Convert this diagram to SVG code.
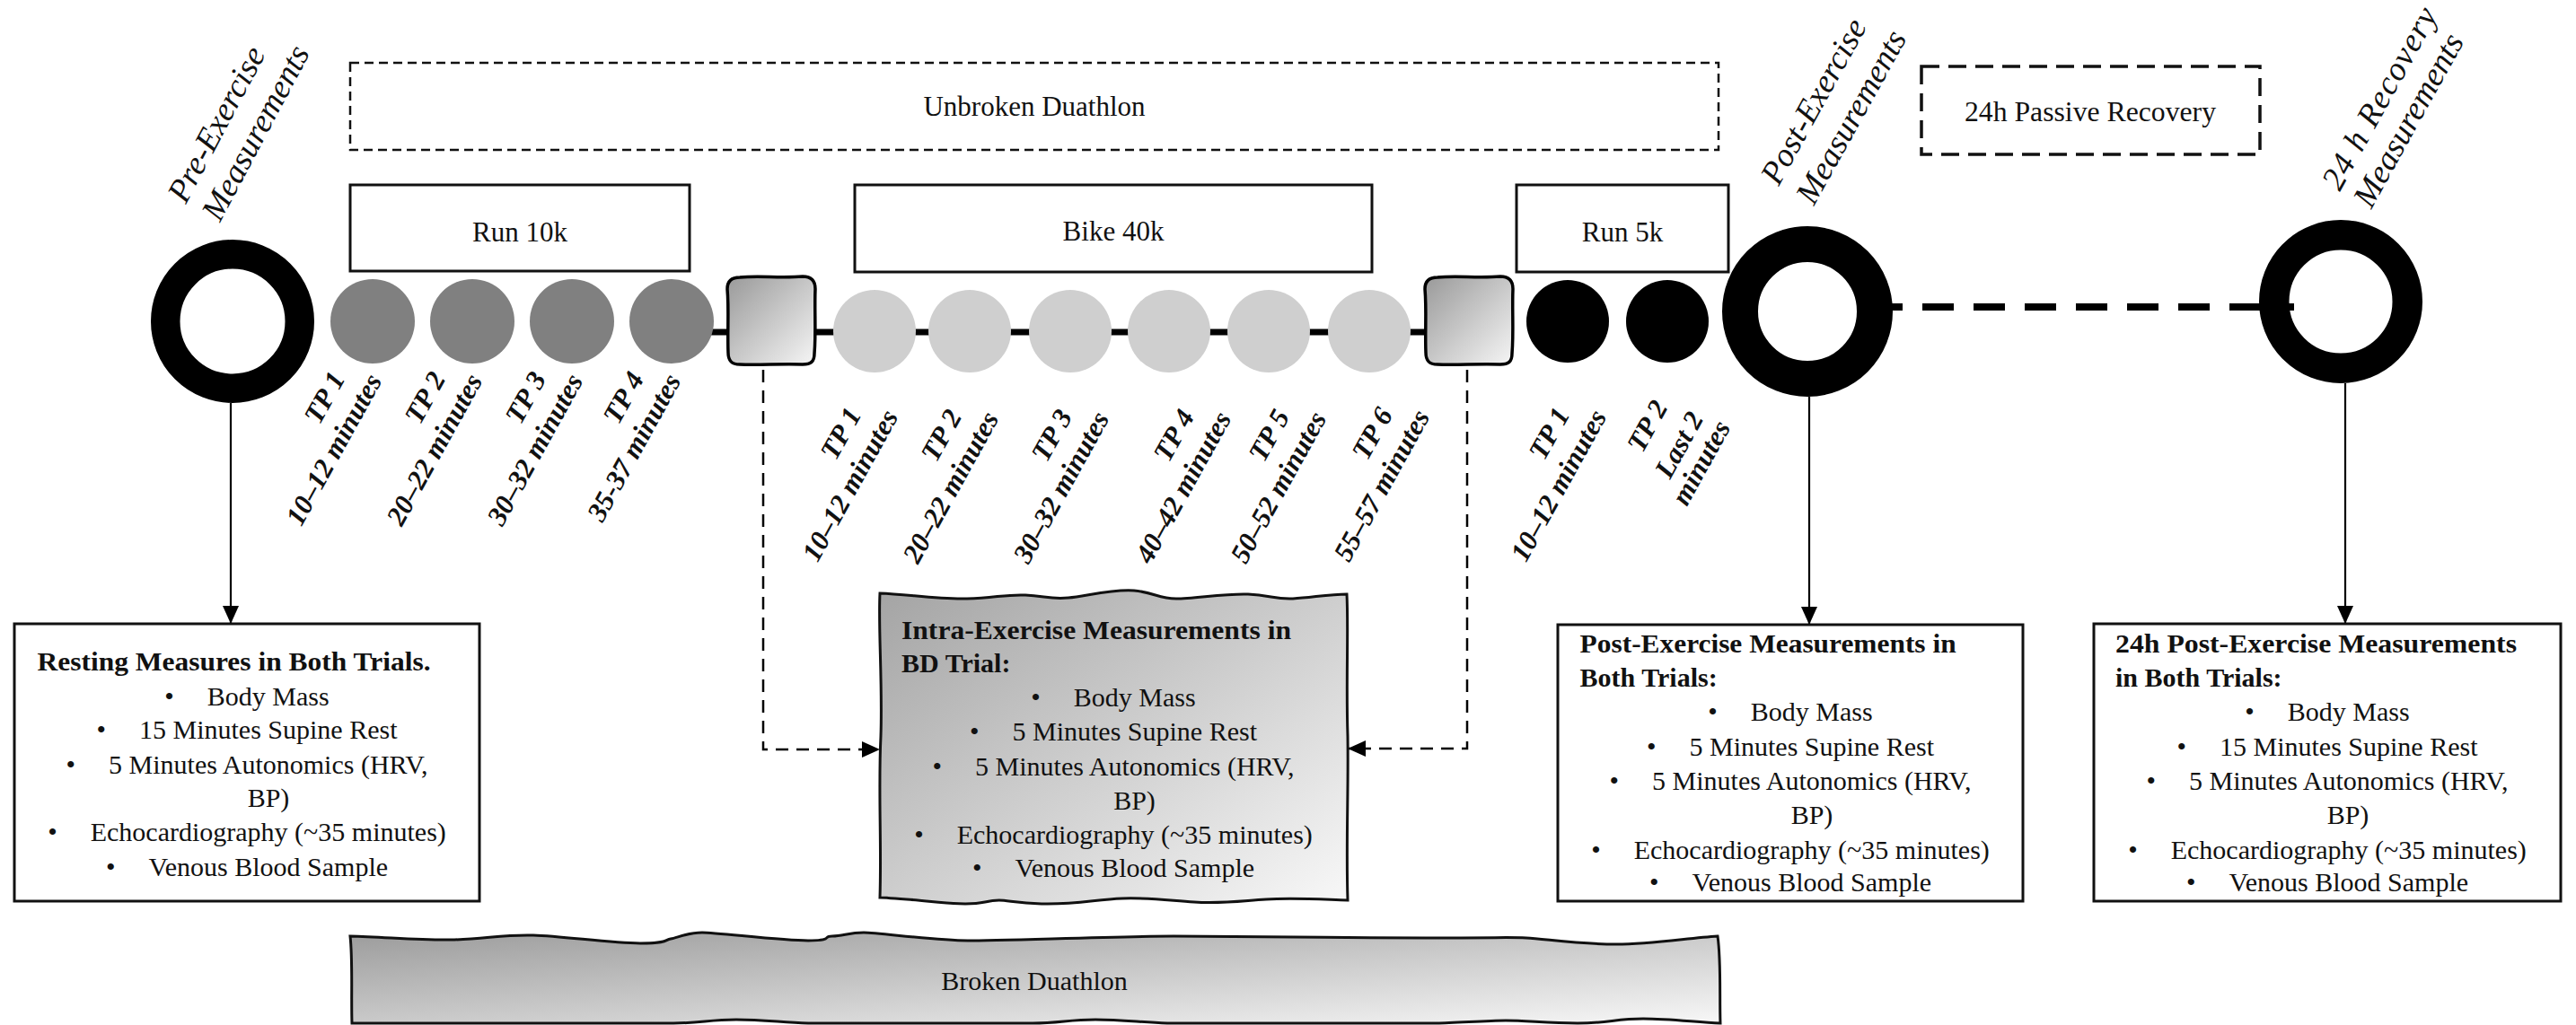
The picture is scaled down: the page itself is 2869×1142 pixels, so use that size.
<svg xmlns="http://www.w3.org/2000/svg" width="2869" height="1142" viewBox="0 0 2869 1142">
<defs>
<style>
text{font-family:"Liberation Serif","Times New Roman",serif;fill:#111;}
.lbl{font-size:31px;}
.body{font-size:30px;}
.ttl{font-size:30px;font-weight:bold;}
.ring{fill:none;stroke:#000;}
.tp{font-size:31px;font-weight:bold;font-style:italic;}
.ri{font-size:37px;font-style:italic;}
.box{fill:#fff;stroke:#111;stroke-width:3;}
.wave{stroke:#111;stroke-width:3;}
.conn{fill:none;stroke:#000;stroke-width:2.2;}
.dconn{fill:none;stroke:#000;stroke-width:2.5;stroke-dasharray:14 9;}
</style>
<marker id="arr" viewBox="0 0 20 18" refX="20" refY="9" markerWidth="20" markerHeight="18" orient="auto" markerUnits="userSpaceOnUse">
<path d="M0,0 L20,9 L0,18 Z" fill="#000" stroke="none"/>
</marker>
<linearGradient id="gT" x1="0" y1="0" x2="1" y2="1">
<stop offset="0" stop-color="#999"/><stop offset="1" stop-color="#f6f6f6"/>
</linearGradient>
<linearGradient id="gI" x1="0" y1="0" x2="1" y2="1">
<stop offset="0" stop-color="#a4a4a4"/><stop offset="1" stop-color="#f8f8f8"/>
</linearGradient>
<linearGradient id="gB" x1="0" y1="0" x2="1" y2="1">
<stop offset="0" stop-color="#9c9c9c"/><stop offset="1" stop-color="#f7f7f7"/>
</linearGradient>
</defs>
<rect width="2869" height="1142" fill="#fff"/>

<g id="connectors">
<line x1="760" y1="370" x2="1600" y2="370" stroke="#000" stroke-width="7"/>
<line x1="2084" y1="342" x2="2555" y2="342" stroke="#000" stroke-width="8" stroke-dasharray="35 22"/>
<line class="conn" x1="257" y1="449" x2="257" y2="695" marker-end="url(#arr)"/>
<line class="conn" x1="2015" y1="442" x2="2015" y2="696" marker-end="url(#arr)"/>
<line class="conn" x1="2612" y1="427" x2="2612" y2="695" marker-end="url(#arr)"/>
<path class="dconn" d="M850,412 V835 H980" marker-end="url(#arr)"/>
<path class="dconn" d="M1634,412 V834 H1501" marker-end="url(#arr)"/>
</g>

<g id="unbroken-duathlon">
<rect x="390" y="70" width="1524" height="97" fill="none" stroke="#111" stroke-width="2.5" stroke-dasharray="10 6"/>
<text class="lbl" x="1152" y="129" text-anchor="middle">Unbroken Duathlon</text>
</g>
<g id="passive-recovery">
<rect x="2140" y="74" width="377" height="98" fill="none" stroke="#111" stroke-width="3.5" stroke-dasharray="20 10"/>
<text class="lbl" x="2328" y="135" text-anchor="middle" textLength="280" lengthAdjust="spacingAndGlyphs">24h Passive Recovery</text>
</g>
<g id="run10k">
<rect class="box" x="390" y="206" width="378" height="96"/>
<text class="lbl" x="579" y="269" text-anchor="middle">Run 10k</text>
</g>
<g id="bike40k">
<rect class="box" x="952" y="206" width="576" height="97"/>
<text class="lbl" x="1240" y="268" text-anchor="middle">Bike 40k</text>
</g>
<g id="run5k">
<rect class="box" x="1689" y="206" width="236" height="97"/>
<text class="lbl" x="1807" y="269" text-anchor="middle">Run 5k</text>
</g>

<g id="pre-exercise">
<circle class="ring" cx="259" cy="358" r="74.75" stroke-width="32.5" stroke="#0d0d0d"/>
<g transform="translate(207,228) rotate(-62)">
<text class="ri" x="0" y="0">Pre-Exercise</text>
<text class="ri" x="0" y="43">Measurements</text>
</g>
</g>
<g id="post-exercise">
<circle class="ring" cx="2013" cy="347" r="75" stroke-width="40"/>
<g transform="translate(1981,208) rotate(-61)">
<text class="ri" x="0" y="0">Post-Exercise</text>
<text class="ri" x="0" y="45">Measurements</text>
</g>
</g>
<g id="recovery-24h">
<circle class="ring" cx="2607" cy="336" r="74.25" stroke-width="33.5"/>
<g transform="translate(2606,214) rotate(-61)">
<text class="ri" x="0" y="0" textLength="226" lengthAdjust="spacing">24 h Recovery</text>
<text class="ri" x="0" y="40">Measurements</text>
</g>
</g>

<g id="run-tp">
<circle cx="415" cy="358" r="47" fill="#808080"/>
<circle cx="526" cy="358" r="47" fill="#808080"/>
<circle cx="637" cy="358" r="47" fill="#808080"/>
<circle cx="748" cy="358" r="47" fill="#808080"/>
<g transform="translate(426,424) rotate(-61)"><text class="tp" x="-18" y="-37" text-anchor="end">TP 1</text><text class="tp" y="0" text-anchor="end">10–12 minutes</text></g>
<g transform="translate(538,424) rotate(-61)"><text class="tp" x="-18" y="-37" text-anchor="end">TP 2</text><text class="tp" y="0" text-anchor="end">20–22 minutes</text></g>
<g transform="translate(650,424) rotate(-61)"><text class="tp" x="-18" y="-37" text-anchor="end">TP 3</text><text class="tp" y="0" text-anchor="end">30–32 minutes</text></g>
<g transform="translate(759,424) rotate(-61)"><text class="tp" x="-18" y="-37" text-anchor="end">TP 4</text><text class="tp" y="0" text-anchor="end">35-37 minutes</text></g>
</g>

<g id="transition-1">
<path fill="url(#gT)" stroke="#000" stroke-width="3.5" d="M824,309 C845,307 870,310 894,308 C904,308 908,313 908,322 C907,345 909,370 907,394 C907,403 903,406 894,406 C870,405 845,407 824,406 C815,406 811,402 811,393 C810,370 812,345 810,322 C810,313 815,309 824,309 Z"/>
</g>

<g id="bike-tp">
<circle cx="974" cy="369" r="46" fill="#cfcfcf"/>
<circle cx="1080" cy="369" r="46" fill="#cfcfcf"/>
<circle cx="1192" cy="369" r="46" fill="#cfcfcf"/>
<circle cx="1302" cy="369" r="46" fill="#cfcfcf"/>
<circle cx="1413" cy="369" r="46" fill="#cfcfcf"/>
<circle cx="1525" cy="369" r="46" fill="#cfcfcf"/>
<g transform="translate(1001,464) rotate(-61)"><text class="tp" x="-18" y="-37" text-anchor="end">TP 1</text><text class="tp" y="0" text-anchor="end">10–12 minutes</text></g>
<g transform="translate(1113,466) rotate(-61)"><text class="tp" x="-18" y="-37" text-anchor="end">TP 2</text><text class="tp" y="0" text-anchor="end">20–22 minutes</text></g>
<g transform="translate(1236,466) rotate(-61)"><text class="tp" x="-18" y="-37" text-anchor="end">TP 3</text><text class="tp" y="0" text-anchor="end">30–32 minutes</text></g>
<g transform="translate(1372,466) rotate(-61)"><text class="tp" x="-18" y="-37" text-anchor="end">TP 4</text><text class="tp" y="0" text-anchor="end">40–42 minutes</text></g>
<g transform="translate(1478,466) rotate(-61)"><text class="tp" x="-18" y="-37" text-anchor="end">TP 5</text><text class="tp" y="0" text-anchor="end">50–52 minutes</text></g>
<g transform="translate(1593,464) rotate(-61)"><text class="tp" x="-18" y="-37" text-anchor="end">TP 6</text><text class="tp" y="0" text-anchor="end">55–57 minutes</text></g>
</g>

<g id="transition-2">
<path transform="translate(777,0)" fill="url(#gT)" stroke="#000" stroke-width="3.5" d="M824,309 C845,307 870,310 894,308 C904,308 908,313 908,322 C907,345 909,370 907,394 C907,403 903,406 894,406 C870,405 845,407 824,406 C815,406 811,402 811,393 C810,370 812,345 810,322 C810,313 815,309 824,309 Z"/>
</g>

<g id="run5k-tp">
<circle cx="1746" cy="358" r="46" fill="#000"/>
<circle cx="1857" cy="358" r="46" fill="#000"/>
<g transform="translate(1790,464) rotate(-61)"><text class="tp" x="-18" y="-37" text-anchor="end">TP 1</text><text class="tp" y="0" text-anchor="end">10–12 minutes</text></g>
<g transform="translate(1928,476) rotate(-61)"><text class="tp" x="-14" y="-72" text-anchor="end">TP 2</text><text class="tp" x="-6" y="-31" text-anchor="end">Last 2</text><text class="tp" y="0" text-anchor="end">minutes</text></g>
</g>

<g id="resting-box">
<rect class="box" x="16" y="695" width="518" height="309"/>
<text class="ttl" x="41.5" y="746.7" textLength="438" lengthAdjust="spacingAndGlyphs">Resting Measures in Both Trials.</text>
<text class="body" x="275" y="785.7" text-anchor="middle">•<tspan dx="37">Body Mass</tspan></text>
<text class="body" x="275" y="823.3" text-anchor="middle">•<tspan dx="37">15 Minutes Supine Rest</tspan></text>
<text class="body" x="275" y="861.7" text-anchor="middle">•<tspan dx="37">5 Minutes Autonomics (HRV,</tspan></text>
<text class="body" x="299" y="899.3" text-anchor="middle">BP)</text>
<text class="body" x="275" y="937.3" text-anchor="middle">•<tspan dx="37">Echocardiography (~35 minutes)</tspan></text>
<text class="body" x="275" y="976" text-anchor="middle">•<tspan dx="37">Venous Blood Sample</tspan></text>
</g>

<g id="intra-box">
<path fill="url(#gI)" class="wave" d="M980,661 C1010,662 1045,668 1077,667 S1120,662 1142,663 S1170,668 1190,666 S1240,656 1263,658 S1290,667 1310,667 S1365,661 1390,662 S1420,668 1440,667 S1480,662 1500,662 C1502,700 1499,760 1501,820 C1502,880 1499,940 1501,1003 C1470,1002 1440,1000 1410,1002 S1360,1007 1330,1005 S1280,1000 1250,1001 S1200,1008 1160,1007 S1120,1000 1097,1005 S1040,1004 1010,1002 S990,1000 980,1000 C982,940 978,880 981,820 C983,760 978,700 980,661 Z"/>
<text class="ttl" x="1004" y="711.7" textLength="434" lengthAdjust="spacingAndGlyphs">Intra-Exercise Measurements in</text>
<text class="ttl" x="1004" y="749.3">BD Trial:</text>
<text class="body" x="1240" y="786.7" text-anchor="middle">•<tspan dx="37">Body Mass</tspan></text>
<text class="body" x="1240" y="825" text-anchor="middle">•<tspan dx="37">5 Minutes Supine Rest</tspan></text>
<text class="body" x="1240" y="864" text-anchor="middle">•<tspan dx="37">5 Minutes Autonomics (HRV,</tspan></text>
<text class="body" x="1263.5" y="901.7" text-anchor="middle">BP)</text>
<text class="body" x="1240" y="940" text-anchor="middle">•<tspan dx="37">Echocardiography (~35 minutes)</tspan></text>
<text class="body" x="1240" y="976.7" text-anchor="middle">•<tspan dx="37">Venous Blood Sample</tspan></text>
</g>

<g id="post-box">
<rect class="box" x="1735" y="696" width="518" height="308"/>
<text class="ttl" x="1759.6" y="727.3" textLength="419" lengthAdjust="spacingAndGlyphs">Post-Exercise Measurements in</text>
<text class="ttl" x="1759.6" y="765">Both Trials:</text>
<text class="body" x="1994" y="802.7" text-anchor="middle">•<tspan dx="37">Body Mass</tspan></text>
<text class="body" x="1994" y="841.7" text-anchor="middle">•<tspan dx="37">5 Minutes Supine Rest</tspan></text>
<text class="body" x="1994" y="880" text-anchor="middle">•<tspan dx="37">5 Minutes Autonomics (HRV,</tspan></text>
<text class="body" x="2018" y="918.3" text-anchor="middle">BP)</text>
<text class="body" x="1994" y="956.7" text-anchor="middle">•<tspan dx="37">Echocardiography (~35 minutes)</tspan></text>
<text class="body" x="1994" y="992.7" text-anchor="middle">•<tspan dx="37">Venous Blood Sample</tspan></text>
</g>

<g id="recovery-box">
<rect class="box" x="2332" y="695" width="520" height="309"/>
<text class="ttl" x="2356" y="727.3" textLength="447" lengthAdjust="spacingAndGlyphs">24h Post-Exercise Measurements</text>
<text class="ttl" x="2356" y="765">in Both Trials:</text>
<text class="body" x="2592" y="802.7" text-anchor="middle">•<tspan dx="37">Body Mass</tspan></text>
<text class="body" x="2592" y="841.7" text-anchor="middle">•<tspan dx="37">15 Minutes Supine Rest</tspan></text>
<text class="body" x="2592" y="880" text-anchor="middle">•<tspan dx="37">5 Minutes Autonomics (HRV,</tspan></text>
<text class="body" x="2615" y="918.3" text-anchor="middle">BP)</text>
<text class="body" x="2592" y="956.7" text-anchor="middle">•<tspan dx="37">Echocardiography (~35 minutes)</tspan></text>
<text class="body" x="2592" y="992.7" text-anchor="middle">•<tspan dx="37">Venous Blood Sample</tspan></text>
</g>

<g id="broken-duathlon">
<path fill="url(#gB)" class="wave" d="M390,1043 C430,1044 470,1048 506,1047 S560,1041 594,1042 S680,1051 713,1051 S740,1047 747,1046 S765,1039 782,1039 S870,1048 900,1048 S915,1043 927,1043 S945,1039 962,1039 S1040,1048 1078,1048 S1250,1043 1307,1043 S1500,1045 1588,1045 S1680,1044 1700,1045 S1760,1052 1800,1052 S1880,1045 1913,1043 C1917,1070 1915,1110 1916,1140 C1890,1139 1860,1135 1830,1135 S1790,1140 1757,1140 S1700,1137 1677,1137 S1620,1140 1600,1140 L1300,1140 C1270,1139 1250,1136 1220,1136 S1180,1140 1150,1140 L900,1140 C870,1139 850,1136 820,1136 S780,1140 750,1140 L392,1140 C391,1110 393,1070 390,1043 Z"/>
<text class="body" x="1152" y="1103.3" text-anchor="middle">Broken Duathlon</text>
</g>
</svg>
